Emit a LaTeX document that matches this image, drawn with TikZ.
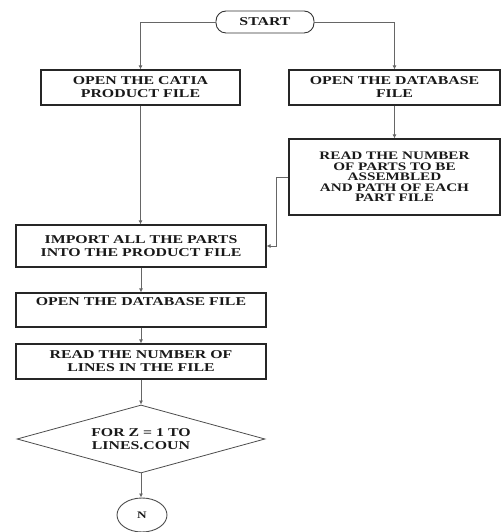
\documentclass[tikz,border=0pt]{standalone}
\usepackage{fontspec}
\setmainfont{Liberation Serif}[FakeStretch=1.32]
\usetikzlibrary{shapes.geometric,arrows.meta}
\begin{document}
\begin{tikzpicture}[x=1pt,y=1pt,
  every node/.style={font=\bfseries\fontsize{12}{13}\selectfont, text=black!90},
  box/.style={draw=black!85, line width=1.1pt, rectangle, inner sep=0pt, align=center},
  conn/.style={draw=black!60, line width=0.8pt, -{Latex[length=4pt,width=4pt]}}]
\useasboundingbox (0,0) rectangle (501,532);
\node[draw=black!80, line width=0.9pt, rounded corners=10pt, minimum width=98pt, minimum height=22pt, inner sep=0pt] (start) at (265,510) {START};
\node[box, minimum width=199pt, minimum height=35pt] (b1) at (140.5,444.5) {OPEN THE CATIA\\PRODUCT FILE};
\node[box, minimum width=211pt, minimum height=35pt] (b2) at (394.5,444.5) {OPEN THE DATABASE\\FILE};
\node[box, minimum width=211pt, minimum height=76pt, font=\bfseries\fontsize{11.5}{10.5}\selectfont] (b3) at (394.5,355) {READ THE NUMBER\\OF PARTS TO BE\\ASSEMBLED\\AND PATH OF EACH\\PART FILE};
\node[box, minimum width=250pt, minimum height=42pt] (b4) at (141,286) {IMPORT ALL THE PARTS\\INTO THE PRODUCT FILE};
\node[box, minimum width=250pt, minimum height=34pt] (b5) at (141,222) {OPEN THE DATABASE FILE\\[0pt]\strut};
\node[box, minimum width=250pt, minimum height=35pt] (b6) at (141,170.5) {READ THE NUMBER OF\\LINES IN THE FILE};
\node[draw=black!70, line width=0.8pt, diamond, aspect=3.6, inner sep=0pt, minimum width=248pt, minimum height=68pt, align=center] (dia) at (141,93) {FOR Z = 1 TO\\LINES.COUN};
\node[draw=black!70, line width=0.9pt, ellipse, inner sep=0pt, minimum width=50pt, minimum height=34pt, font=\bfseries\fontsize{10}{10}\selectfont] (n) at (142,17) {N};
\draw[conn] (start.west) -| (b1.north);
\draw[conn] (start.east) -| (b2.north);
\draw[conn] (b2.south) -- (b3.north);
\draw[conn] (b1.south) -- (b4.north -| b1.south);
\draw[conn] (b3.west) -- ++(-12,0) |- (b4.east);
\draw[conn] (b4.south) -- (b5.north);
\draw[conn] (b5.south) -- (b6.north);
\draw[conn] (b6.south) -- (dia.north);
\draw[conn] (dia.south) -- (dia.south |- n.north);
\end{tikzpicture}
\end{document}
